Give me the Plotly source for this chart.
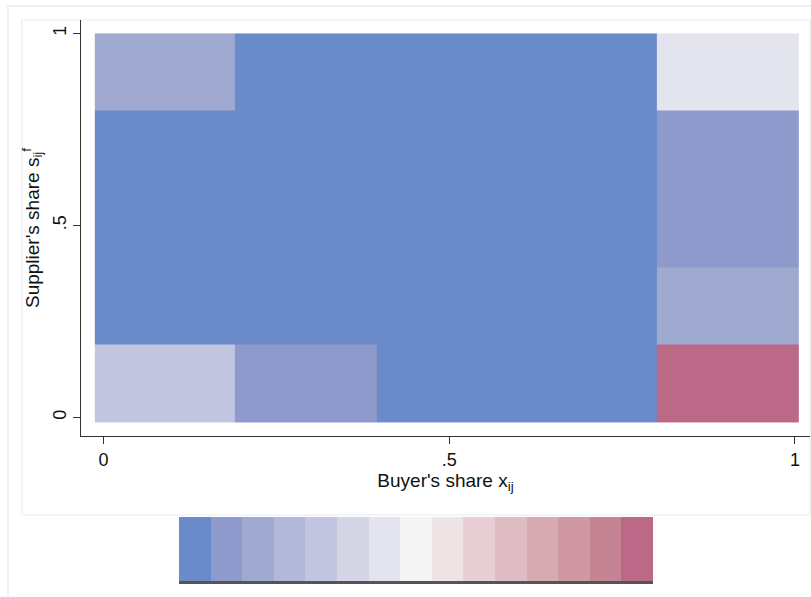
import plotly.graph_objects as go

W, H = 811, 597

# Data
x_edges = [-0.0125, 0.19, 0.395, 0.6, 0.8, 1.005]
y_edges = [-0.0125, 0.19, 0.39, 0.595, 0.8, 1.0]
# color level (1..15) of each cell, rows bottom -> top
levels = [
    [5, 2, 1, 1, 15],
    [1, 1, 1, 1, 3],
    [1, 1, 1, 1, 2],
    [1, 1, 1, 1, 2],
    [3, 1, 1, 1, 7],
]
palette = ["#6A8BC9", "#8E9ACB", "#A0A9CF", "#B2B8D9", "#C2C6E0", "#D4D6E5",
           "#E4E4EF", "#F5F5F5", "#EEE3E5", "#E7CFD5", "#E0BDC4", "#D8ABB4",
           "#CF98A4", "#C48494", "#BC6987"]
legend_levels = list(range(1, 16))
tick_vals = [0, 0.5, 1]
tick_text = ["0", ".5", "1"]

n = len(palette)
cscale = []
for i, c in enumerate(palette):
    cscale.append([i / n, c])
    cscale.append([(i + 1) / n, c])

def px(x):
    return x / W

def py(y):
    return 1 - y / H

fig = go.Figure()
fig.add_trace(go.Heatmap(
    x=x_edges, y=y_edges, z=levels, colorscale=cscale, zmin=0.5, zmax=15.5,
    showscale=False, xaxis="x", yaxis="y", hoverinfo="skip"))
fig.add_trace(go.Heatmap(
    z=[legend_levels], colorscale=cscale, zmin=0.5, zmax=15.5,
    showscale=False, xaxis="x2", yaxis="y2", hoverinfo="skip"))

fig.update_layout(
    width=W, height=H, margin=dict(l=0, r=0, t=0, b=0),
    paper_bgcolor="white", plot_bgcolor="white",
    font=dict(family="Liberation Sans, Arial, sans-serif", size=18, color="#111111"),
    showlegend=False,
    xaxis=dict(domain=[px(81), px(810)], range=[-0.0325, 1.0217],
               showgrid=False, zeroline=False, showline=True, linecolor="#333333",
               linewidth=1.3, ticks="outside", ticklen=7, tickcolor="#333333",
               tickvals=tick_vals, ticktext=tick_text, tickfont=dict(size=18),
               title=dict(text="Buyer's share x<sub>ij</sub>", font=dict(size=19), standoff=3),
               anchor="y"),
    yaxis=dict(domain=[py(436), py(20)], range=[-0.048, 1.035],
               showgrid=False, zeroline=False, showline=True, linecolor="#333333",
               linewidth=1.3, ticks="outside", ticklen=7, tickcolor="#333333",
               tickvals=tick_vals, ticktext=tick_text, tickangle=-90, tickfont=dict(size=18),
               ticklabelstandoff=0,
               title=dict(text="Supplier's share s<sub>ij</sub><sup>f</sup>", font=dict(size=19), standoff=5),
               anchor="x"),
    xaxis2=dict(domain=[px(179), px(653)], range=[-0.5, 14.5], showgrid=False,
                zeroline=False, showline=True, linecolor="#555555", linewidth=2.5,
                showticklabels=False, ticks="", anchor="y2"),
    yaxis2=dict(domain=[py(581), py(517)], range=[-0.5, 0.5], showgrid=False,
                zeroline=False, showline=False, showticklabels=False, ticks="",
                anchor="x2"),
    shapes=[
        dict(type="rect", xref="paper", yref="paper", x0=px(8), y0=-0.05, x1=1.05, y1=py(6),
             line=dict(color="#E6EDF3", width=1.5), fillcolor="rgba(0,0,0,0)", layer="below"),
        dict(type="rect", xref="paper", yref="paper", x0=px(22), y0=py(515), x1=px(810), y1=py(20),
             line=dict(color="#E6EDF3", width=1.2), fillcolor="rgba(0,0,0,0)", layer="below"),
    ],
)

fig.write_html("out.html", config={"displayModeBar": False},
               post_script="document.body.style.margin='0';")
